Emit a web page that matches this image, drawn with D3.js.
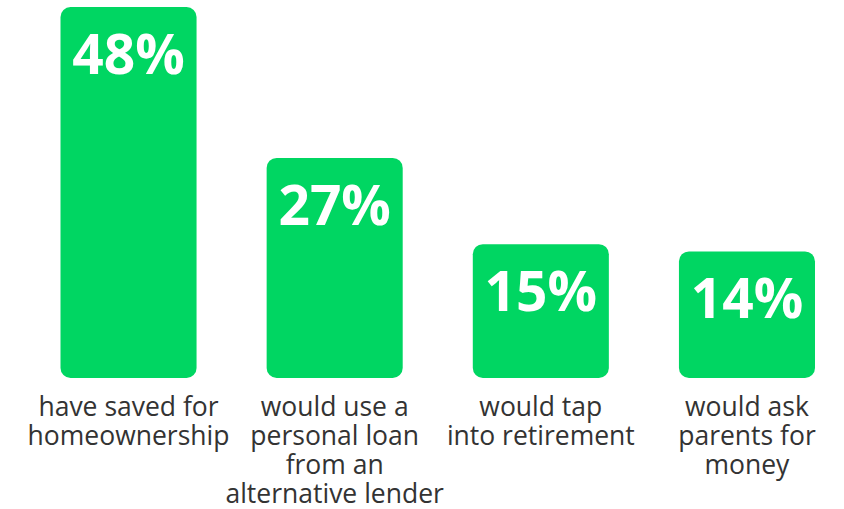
<!DOCTYPE html>
<html>
<head>
<meta charset="utf-8">
<script src="https://cdn.jsdelivr.net/npm/d3@7"></script>
<style>
  body { margin: 0; background: #fff; }
  svg { display: block; }
</style>
</head>
<body>
<div id="chart"></div>
<script>
// chart data
const categories = ['homeownership', 'personalLoan', 'retirement', 'parents'];
const values = [48, 27, 15, 14];
const labelLines = [
  ['have saved for', 'homeownership'],
  ['would use a', 'personal loan', 'from an', 'alternative lender'],
  ['would tap', 'into retirement'],
  ['would ask', 'parents for', 'money']
];

const width = 844;
const height = 509;
const baseline = 378;

const svg = d3.select('#chart')
  .append('svg')
  .attr('width', width)
  .attr('height', height);

const x = d3.scaleBand()
  .domain(categories)
  .range([60.5, 815])
  .paddingInner(0.34)
  .paddingOuter(0);

// bar heights in the graphic are not strictly proportional, keep a small floor
const y = d3.scaleLinear()
  .domain([0, 48])
  .range([baseline - 26, 7]);

const data = categories.map((c, i) => ({ key: c, value: values[i], lines: labelLines[i] }));

// bars, rounded on all corners
svg.selectAll('rect.bar')
  .data(data)
  .enter().append('rect')
  .attr('class', 'bar')
  .attr('x', d => x(d.key))
  .attr('y', d => y(d.value))
  .attr('width', x.bandwidth())
  .attr('height', d => baseline - y(d.value))
  .attr('rx', 10)
  .attr('ry', 10)
  .attr('fill', '#00d662');

// value labels inside bars
svg.selectAll('text.value')
  .data(data)
  .enter().append('text')
  .attr('class', 'value')
  .attr('x', d => x(d.key) + x.bandwidth() / 2)
  .attr('y', d => y(d.value) + 67)
  .attr('text-anchor', 'middle')
  .style('font-family', '"Open Sans", sans-serif')
  .style('font-weight', 'bold')
  .style('font-size', '55px')
  .style('fill', '#ffffff')
  .text(d => `${d.value}%`);

// category labels under bars
const labels = svg.selectAll('text.cat')
  .data(data)
  .enter().append('text')
  .attr('class', 'cat')
  .attr('text-anchor', 'middle')
  .style('font-family', '"Open Sans", sans-serif')
  .style('font-size', '26.5px')
  .style('fill', '#333333');

labels.selectAll('tspan')
  .data(d => d.lines.map(l => ({ key: d.key, line: l })))
  .enter().append('tspan')
  .attr('x', d => x(d.key) + x.bandwidth() / 2)
  .attr('y', (d, i) => 416 + i * 29)
  .text(d => d.line);
</script>
</body>
</html>
